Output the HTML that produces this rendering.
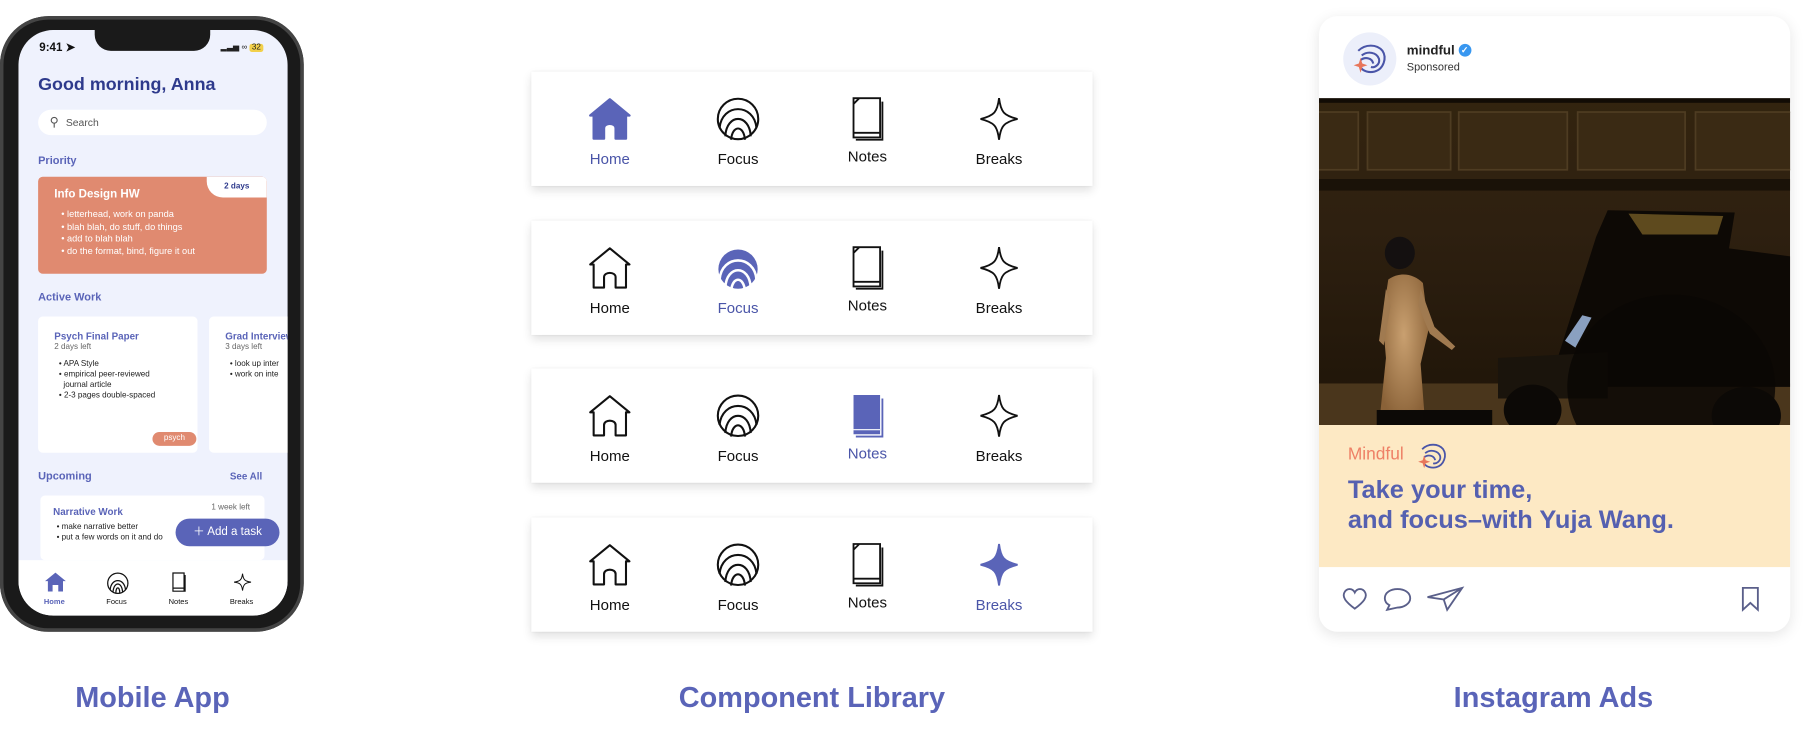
<!DOCTYPE html>
<html><head><meta charset="utf-8"><style>
html,body{margin:0;padding:0;background:#fff;overflow:hidden}
body{width:1811px;height:737px;font-family:"Liberation Sans",sans-serif}
#w{position:absolute;left:0;top:0;width:1568px;height:638px;transform:scale(1.15497);transform-origin:0 0}
.a{position:absolute}
.cap{position:absolute;top:590px;font-size:25px;font-weight:bold;color:#5a64b8;text-align:center;width:400px}
.nav{position:absolute;left:460px;width:486px;height:99px;background:#fff;box-shadow:0 4px 8px rgba(0,0,0,.12),0 0 2px rgba(0,0,0,.08)}
.it{position:absolute;width:100px;text-align:center;top:68px;font-size:13px;color:#111;margin-left:-50px}
.ic{position:absolute;top:22px;margin-left:-20px}
.blue{color:#4a55a8}
.ph{font-size:8px;color:#222}
</style></head><body><div id="w">

<!-- PHONE -->
<div class="a" style="left:0;top:14px;width:263px;height:533px;border-radius:42px;background:#1a1a1a;box-shadow:inset 0 0 0 3px #444"></div>
<div class="a" style="left:16px;top:26px;width:233px;height:507px;border-radius:30px;background:#eff2fd;overflow:hidden">
  <div class="a" style="left:66px;top:0;width:100px;height:18px;background:#1a1a1a;border-radius:0 0 14px 14px"></div>
  <div class="a" style="left:18px;top:10px;font-size:10px;font-weight:bold;color:#111">9:41 ➤</div>
  <div class="a" style="left:175px;top:11px;font-size:7px;color:#222">▂▃▅ ∞ <span style="background:#f2d04a;padding:0 2px;border-radius:2px">32</span></div>
  <div class="a" style="left:17px;top:39px;font-size:15.5px;font-weight:bold;color:#2e3a8c">Good morning, Anna</div>
  <div class="a" style="left:17px;top:69px;width:198px;height:22px;background:#fff;border-radius:11px"><span class="a" style="left:10px;top:4px;font-size:11px;color:#555">⚲</span><span class="a" style="left:24px;top:6px;font-size:9px;color:#555">Search</span></div>
  <div class="a" style="left:17px;top:108px;font-size:9.5px;color:#5a64b8;font-weight:bold">Priority</div>
  <div class="a" style="left:17px;top:127px;width:198px;height:84px;background:#e08a70;border-radius:4px;overflow:hidden">
    <div class="a" style="right:0;top:0;width:52px;height:18px;background:#fff;border-bottom-left-radius:14px;font-size:7px;font-weight:bold;color:#2e3a8c;text-align:center;line-height:17px">2 days</div>
    <div class="a" style="left:14px;top:10px;font-size:10px;color:#fff;font-weight:bold">Info Design HW</div>
    <div class="a" style="left:20px;top:28px;font-size:8px;color:#fff;line-height:10.5px">• letterhead, work on panda<br>• blah blah, do stuff, do things<br>• add to blah blah<br>• do the format, bind, figure it out</div>
  </div>
  <div class="a" style="left:17px;top:226px;font-size:9.5px;color:#5a64b8;font-weight:bold">Active Work</div>
  <div class="a" style="left:17px;top:248px;width:138px;height:118px;background:#fff;border-radius:4px">
    <div class="a" style="left:14px;top:12px;font-size:8.5px;color:#5a64b8;font-weight:bold">Psych Final Paper</div>
    <div class="a" style="left:14px;top:23px;font-size:7px;color:#666">2 days left</div>
    <div class="a ph" style="left:18px;top:37px;font-size:7px;line-height:9px">• APA Style<br>• empirical peer-reviewed<br>&nbsp;&nbsp;journal article<br>• 2-3 pages double-spaced</div>
    <div class="a" style="left:115px;top:100px;width:38px;height:12px;margin-left:-16px;background:#e08a70;border-radius:6px;font-size:7px;color:#fff;text-align:center;line-height:12px">psych</div>
  </div>
  <div class="a" style="left:165px;top:248px;width:90px;height:118px;background:#fff;border-radius:4px">
    <div class="a" style="left:14px;top:12px;font-size:8.5px;color:#5a64b8;font-weight:bold;white-space:nowrap">Grad Interview</div>
    <div class="a" style="left:14px;top:23px;font-size:7px;color:#666;white-space:nowrap">3 days left</div>
    <div class="a ph" style="left:18px;top:37px;font-size:7px;line-height:9px;white-space:nowrap">• look up inter<br>• work on inte</div>
  </div>
  <div class="a" style="left:17px;top:381px;font-size:9.5px;color:#5a64b8;font-weight:bold">Upcoming</div>
  <div class="a" style="left:183px;top:381px;font-size:8.5px;color:#5a64b8;font-weight:bold">See All</div>
  <div class="a" style="left:19px;top:403px;width:194px;height:56px;background:#fff;border-radius:4px">
    <div class="a" style="left:11px;top:9px;font-size:8.5px;color:#5a64b8;font-weight:bold">Narrative Work</div>
    <div class="a" style="left:148px;top:7px;font-size:7px;color:#666">1 week left</div>
    <div class="a ph" style="left:14px;top:23px;font-size:7px;line-height:9px;white-space:nowrap">• make narrative better<br>• put a few words on it and do</div>
  </div>
  <div class="a" style="left:136px;top:423px;width:90px;height:24px;background:#5a64b8;border-radius:12px;color:#fff;font-size:10px;line-height:24px;text-align:center">＋ Add a task</div>
  <div class="a" style="left:0;top:459px;width:233px;height:48px;background:#fff">
    <svg class="a" style="left:22px;top:10px" width="20" height="18" viewBox="0 0 24 22"><path d="M12 1 L23 10 L20 10 L20 21 L15 21 L15 14 L9 14 L9 21 L4 21 L4 10 L1 10Z" fill="#5a64b8"/></svg>
    <svg class="a" style="left:76px;top:10px" width="20" height="20" viewBox="0 0 24 24" fill="none" stroke="#111" stroke-width="1.3"><circle cx="12" cy="12" r="10.5"/><path d="M4 19 C5 6 19 6 20 19 M7 21 C8 10 16 10 17 21 M10 22 C10 15 14 15 14 22"/></svg>
    <svg class="a" style="left:132px;top:10px" width="14" height="18" viewBox="0 0 16 20" fill="none" stroke="#111" stroke-width="1.2"><path d="M2 1 H13 V19 H2Z M2 16 H13 M14 3 V19.5"/></svg>
    <svg class="a" style="left:186px;top:10px" width="16" height="18" viewBox="0 0 24 24" fill="none" stroke="#111" stroke-width="1.3"><path d="M12 1 C13 9 15 11 23 12 C15 13 13 15 12 23 C11 15 9 13 1 12 C9 11 11 9 12 1Z"/></svg>
    <div class="a" style="left:22px;top:33px;font-size:6.5px;color:#5a64b8;font-weight:bold">Home</div>
    <div class="a" style="left:76px;top:33px;font-size:6.5px;color:#111">Focus</div>
    <div class="a" style="left:130px;top:33px;font-size:6.5px;color:#111">Notes</div>
    <div class="a" style="left:183px;top:33px;font-size:6.5px;color:#111">Breaks</div>
  </div>
</div>
<div class="cap" style="left:-68px">Mobile App</div>

<!-- NAV BARS -->
<svg width="0" height="0" style="position:absolute"><defs>
<g id="home"><path d="M20 2 L37 16 L34 16 L34 36 L25 36 L25 27 C25 22 15 22 15 27 L15 36 L6 36 L6 16 L3 16Z" stroke-linejoin="round"/></g>
<g id="focus"><circle cx="20" cy="19" r="17.5"/><path d="M4 27 C6 5 34 5 36 27 M9 34 C10 14 30 14 31 34 M14 37 C15 24 25 24 26 37"/></g>
<g id="notes"><path d="M8 1 H31 V35 H8 Z M8 31 H31 M33 4 V37 H10 M8 6 L13 1"/></g>
<g id="star"><path d="M20 1 C21.5 13 24 16 36 19 C24 22 21.5 25 20 37 C18.5 25 16 22 4 19 C16 16 18.5 13 20 1Z"/></g>
</defs></svg>

<div class="nav" style="top:62px">
  <svg class="ic" style="left:68px" width="40" height="40"><use href="#home" fill="#5a64b8" stroke="#5a64b8" stroke-width="2"/></svg>
  <svg class="ic" style="left:179px" width="40" height="40" fill="none" stroke="#111" stroke-width="1.8"><use href="#focus"/></svg>
  <svg class="ic" style="left:291px" width="40" height="40" fill="none" stroke="#111" stroke-width="1.6"><use href="#notes"/></svg>
  <svg class="ic" style="left:405px" width="40" height="40" fill="none" stroke="#111" stroke-width="1.6"><use href="#star"/></svg>
  <div class="it blue" style="left:68px">Home</div><div class="it" style="left:179px">Focus</div><div class="it" style="left:291px;top:66px">Notes</div><div class="it" style="left:405px">Breaks</div>
</div>
<div class="nav" style="top:191px">
  <svg class="ic" style="left:68px" width="40" height="40" fill="none" stroke="#111" stroke-width="1.8"><use href="#home"/></svg>
  <svg class="ic" style="left:179px" width="40" height="40"><circle cx="20" cy="20" r="17" fill="#5a64b8"/><g fill="none" stroke="#fff" stroke-width="2.2"><path d="M4 29 C6 7 34 7 36 29 M9 36 C10 16 30 16 31 36 M14 39 C15 26 25 26 26 39"/></g></svg>
  <svg class="ic" style="left:291px" width="40" height="40" fill="none" stroke="#111" stroke-width="1.6"><use href="#notes"/></svg>
  <svg class="ic" style="left:405px" width="40" height="40" fill="none" stroke="#111" stroke-width="1.6"><use href="#star"/></svg>
  <div class="it" style="left:68px">Home</div><div class="it blue" style="left:179px">Focus</div><div class="it" style="left:291px;top:66px">Notes</div><div class="it" style="left:405px">Breaks</div>
</div>
<div class="nav" style="top:319px">
  <svg class="ic" style="left:68px" width="40" height="40" fill="none" stroke="#111" stroke-width="1.8"><use href="#home"/></svg>
  <svg class="ic" style="left:179px" width="40" height="40" fill="none" stroke="#111" stroke-width="1.8"><use href="#focus"/></svg>
  <svg class="ic" style="left:291px" width="40" height="40"><path d="M8 1 H31 V35 H8Z" fill="#5a64b8"/><path d="M8 31 H31 M33 4 V37 H10" fill="none" stroke="#5a64b8" stroke-width="1.6"/><path d="M8 31 H31" stroke="#fff" stroke-width="1"/></svg>
  <svg class="ic" style="left:405px" width="40" height="40" fill="none" stroke="#111" stroke-width="1.6"><use href="#star"/></svg>
  <div class="it" style="left:68px">Home</div><div class="it" style="left:179px">Focus</div><div class="it blue" style="left:291px;top:66px">Notes</div><div class="it" style="left:405px">Breaks</div>
</div>
<div class="nav" style="top:448px">
  <svg class="ic" style="left:68px" width="40" height="40" fill="none" stroke="#111" stroke-width="1.8"><use href="#home"/></svg>
  <svg class="ic" style="left:179px" width="40" height="40" fill="none" stroke="#111" stroke-width="1.8"><use href="#focus"/></svg>
  <svg class="ic" style="left:291px" width="40" height="40" fill="none" stroke="#111" stroke-width="1.6"><use href="#notes"/></svg>
  <svg class="ic" style="left:405px" width="40" height="40"><use href="#star" fill="#5a64b8" stroke="#5a64b8" stroke-width="1.6"/></svg>
  <div class="it" style="left:68px">Home</div><div class="it" style="left:179px">Focus</div><div class="it" style="left:291px;top:66px">Notes</div><div class="it blue" style="left:405px">Breaks</div>
</div>
<div class="cap" style="left:503px">Component Library</div>

<!-- INSTAGRAM -->
<div class="a" style="left:1142px;top:14px;width:408px;height:533px;background:#fff;border-radius:16px;box-shadow:0 3px 12px rgba(0,0,0,.1);overflow:hidden">
  <div class="a" style="left:21px;top:14px;width:46px;height:46px;border-radius:50%;background:#eceffa"></div>
  <svg class="a" style="left:28px;top:22px" width="32" height="30" viewBox="0 0 32 30" fill="none" stroke="#4a55a8" stroke-width="1.8"><path d="M6 8 C12 2 22 2 27 8 C31 14 28 24 20 26 C16 27 10 26 8 22 M9 12 C14 8 22 9 24 15 C25 20 20 23 17 22 M8 16 C12 13 18 14 19 19"/><path d="M8 14 L9.5 19 L14 20.5 L9.5 22 L8 27 L6.5 22 L2 20.5 L6.5 19Z" fill="#e8765a" stroke="none"/></svg>
  <div class="a" style="left:76px;top:24px;font-size:11.5px;font-weight:bold;color:#222">mindful <span style="display:inline-block;width:11px;height:11px;border-radius:50%;background:#3897f0;color:#fff;font-size:8px;line-height:11px;text-align:center;vertical-align:1px">✓</span></div>
  <div class="a" style="left:76px;top:39px;font-size:9.5px;color:#333">Sponsored</div>
  <svg class="a" style="left:0;top:71px" width="408" height="283" viewBox="0 0 408 283">
    <defs><linearGradient id="bg" x1="0" y1="0" x2="0" y2="1"><stop offset="0" stop-color="#33240f"/><stop offset=".4" stop-color="#2e2010"/><stop offset="1" stop-color="#1e1408"/></linearGradient>
    <radialGradient id="gl" cx=".5" cy=".4" r=".6"><stop offset="0" stop-color="#c9a070"/><stop offset="1" stop-color="#8a6238"/></radialGradient></defs>
    <rect width="408" height="283" fill="url(#bg)"/>
    <rect y="0" width="408" height="4" fill="#120c05"/>
    <g fill="#3a2a14" stroke="#4e3c22" stroke-width="1.5">
      <rect x="-10" y="12" width="44" height="50"/><rect x="42" y="12" width="72" height="50"/><rect x="121" y="12" width="94" height="50"/><rect x="224" y="12" width="93" height="50"/><rect x="326" y="12" width="92" height="50"/>
    </g>
    <rect y="70" width="408" height="10" fill="#1a1208"/>
    <rect y="247" width="408" height="36" fill="#4a361c"/>
    <path d="M200 246 L240 120 L250 97 L360 99 L355 130 L408 137 L408 250 L200 250Z" fill="#0d0905"/>
    <path d="M268 100 L350 102 L345 118 L280 118Z" fill="#5e4a1e"/>
    <path d="M155 225 L250 220 L250 260 L155 260Z" fill="#1a140c"/>
    <path d="M213 210 L228 188 L236 190 L222 216Z" fill="#8aa0c0"/>
    <ellipse cx="70" cy="134" rx="13" ry="14" fill="#141010"/>
    <path d="M60 157 C70 150 82 152 90 160 L95 200 L88 230 L92 283 L52 283 L58 225 L55 190Z" fill="url(#gl)"/>
    <path d="M88 165 L100 198 L118 215 L115 218 L96 204 L86 180Z" fill="#a07a50"/>
    <path d="M58 165 L52 210 L56 214 L62 180Z" fill="#a07a50"/>
    <ellipse cx="305" cy="250" rx="90" ry="80" fill="#0a0705" opacity=".85"/>
    <ellipse cx="185" cy="270" rx="25" ry="22" fill="#0c0906"/>
    <ellipse cx="370" cy="275" rx="30" ry="25" fill="#0c0906"/>
    <rect x="50" y="270" width="100" height="13" fill="#0c0906"/>
  </svg>
  <div class="a" style="left:0;top:354px;width:408px;height:123px;background:#fde9c4"></div>
  <div class="a" style="left:25px;top:371px;font-size:15px;color:#ee8066">Mindful</div>
  <svg class="a" style="left:84px;top:368px" width="28" height="26" viewBox="0 0 32 30" fill="none" stroke="#4a55a8" stroke-width="1.8"><path d="M6 8 C12 2 22 2 27 8 C31 14 28 24 20 26 C16 27 10 26 8 22 M9 12 C14 8 22 9 24 15 C25 20 20 23 17 22 M8 16 C12 13 18 14 19 19"/><path d="M8 14 L9.5 19 L14 20.5 L9.5 22 L8 27 L6.5 22 L2 20.5 L6.5 19Z" fill="#e8765a" stroke="none"/></svg>
  <div class="a" style="left:25px;top:397px;font-size:22px;font-weight:bold;color:#5560b0;line-height:26px;white-space:nowrap">Take your time,<br>and focus–with Yuja Wang.</div>
  <svg class="a" style="left:20px;top:492px" width="120" height="26" fill="none" stroke="#5a5f8a" stroke-width="1.6">
    <path d="M11 21 C3 15 0 11 2 7 C4 3 9 3 11 7 C13 3 18 3 20 7 C22 11 19 15 11 21Z"/>
    <path d="M48 20 C53 20 59 17 59 12 C59 7 54 4 48 4 C42 4 37 7 37 12 C37 15 39 17 41 18 L39 22 Z"/>
    <path d="M74 11 L104 3 L91 22 L88 13 Z M88 13 L104 3"/>
  </svg>
  <svg class="a" style="left:365px;top:493px" width="18" height="24" fill="none" stroke="#5a5f8a" stroke-width="1.6"><path d="M2 2 H15 V21 L8.5 15 L2 21Z"/></svg>
</div>
<div class="cap" style="left:1145px">Instagram Ads</div>

</div></body></html>
